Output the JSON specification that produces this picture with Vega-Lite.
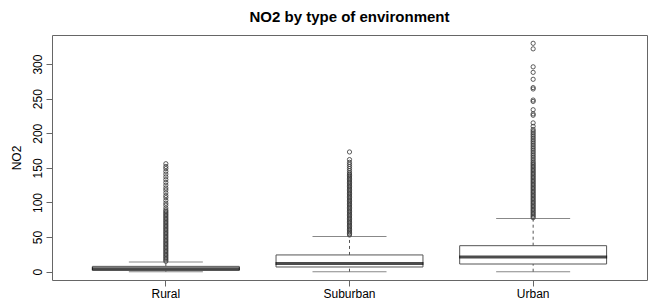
{
  "$schema": "https://vega.github.io/schema/vega-lite/v6.json",
  "width": 595,
  "height": 245,
  "autosize": {"type": "none"},
  "padding": {"left": 52, "top": 35, "right": 2, "bottom": 23},
  "background": "white",
  "title": {"text": "NO2 by type of environment", "font": "Liberation Sans", "fontSize": 15, "fontWeight": "bold", "color": "black", "anchor": "middle", "offset": 10},
  "config": {
    "view": {"stroke": "#666", "strokeWidth": 1},
    "axis": {"labelFont": "Liberation Sans", "titleFont": "Liberation Sans", "labelFontSize": 12, "titleFontSize": 12, "titleFontWeight": "normal", "labelColor": "black", "titleColor": "black", "tickColor": "#666", "tickSize": 6, "grid": false, "domain": false}
  },
  "datasets": {
    "boxes": [
      {"env": "Rural", "lo": 0, "q1": 1.9, "med": 4.3, "q3": 7.7, "hi": 14},
      {"env": "Suburban", "lo": 0, "q1": 6.8, "med": 12, "q3": 24.2, "hi": 51},
      {"env": "Urban", "lo": 0, "q1": 11.1, "med": 21.3, "q3": 37.6, "hi": 77}
    ],
    "outliers": [
      {"env":"Rural","NO2":15},{"env":"Rural","NO2":17},{"env":"Rural","NO2":19},{"env":"Rural","NO2":21},{"env":"Rural","NO2":23},{"env":"Rural","NO2":25},{"env":"Rural","NO2":27},{"env":"Rural","NO2":29},{"env":"Rural","NO2":31},{"env":"Rural","NO2":33},{"env":"Rural","NO2":35},{"env":"Rural","NO2":37},{"env":"Rural","NO2":39},{"env":"Rural","NO2":41},{"env":"Rural","NO2":43},{"env":"Rural","NO2":45},{"env":"Rural","NO2":47},{"env":"Rural","NO2":49},{"env":"Rural","NO2":51},{"env":"Rural","NO2":53},{"env":"Rural","NO2":55},{"env":"Rural","NO2":57},{"env":"Rural","NO2":59},{"env":"Rural","NO2":61},{"env":"Rural","NO2":63},{"env":"Rural","NO2":65},{"env":"Rural","NO2":67},{"env":"Rural","NO2":69},{"env":"Rural","NO2":71},{"env":"Rural","NO2":73},{"env":"Rural","NO2":75},{"env":"Rural","NO2":77},{"env":"Rural","NO2":79},{"env":"Rural","NO2":81},{"env":"Rural","NO2":83},{"env":"Rural","NO2":85},{"env":"Rural","NO2":87},{"env":"Rural","NO2":89},
      {"env":"Rural","NO2":92},{"env":"Rural","NO2":96},{"env":"Rural","NO2":99},{"env":"Rural","NO2":103},{"env":"Rural","NO2":107},{"env":"Rural","NO2":110},{"env":"Rural","NO2":114},{"env":"Rural","NO2":118},{"env":"Rural","NO2":121},{"env":"Rural","NO2":125},{"env":"Rural","NO2":129},{"env":"Rural","NO2":133},{"env":"Rural","NO2":137},{"env":"Rural","NO2":141},{"env":"Rural","NO2":145},{"env":"Rural","NO2":149},{"env":"Rural","NO2":152},{"env":"Rural","NO2":156},
      {"env":"Suburban","NO2":53},{"env":"Suburban","NO2":55},{"env":"Suburban","NO2":57},{"env":"Suburban","NO2":59},{"env":"Suburban","NO2":61},{"env":"Suburban","NO2":63},{"env":"Suburban","NO2":65},{"env":"Suburban","NO2":67},{"env":"Suburban","NO2":69},{"env":"Suburban","NO2":71},{"env":"Suburban","NO2":73},{"env":"Suburban","NO2":75},{"env":"Suburban","NO2":77},{"env":"Suburban","NO2":79},{"env":"Suburban","NO2":81},{"env":"Suburban","NO2":83},{"env":"Suburban","NO2":85},{"env":"Suburban","NO2":87},{"env":"Suburban","NO2":89},{"env":"Suburban","NO2":91},{"env":"Suburban","NO2":93},{"env":"Suburban","NO2":95},{"env":"Suburban","NO2":97},{"env":"Suburban","NO2":99},{"env":"Suburban","NO2":101},{"env":"Suburban","NO2":103},{"env":"Suburban","NO2":105},{"env":"Suburban","NO2":107},{"env":"Suburban","NO2":109},{"env":"Suburban","NO2":111},{"env":"Suburban","NO2":113},{"env":"Suburban","NO2":115},{"env":"Suburban","NO2":117},{"env":"Suburban","NO2":119},{"env":"Suburban","NO2":121},{"env":"Suburban","NO2":123},{"env":"Suburban","NO2":125},{"env":"Suburban","NO2":127},{"env":"Suburban","NO2":129},{"env":"Suburban","NO2":131},{"env":"Suburban","NO2":133},{"env":"Suburban","NO2":135},{"env":"Suburban","NO2":137},{"env":"Suburban","NO2":139},{"env":"Suburban","NO2":141},{"env":"Suburban","NO2":143},
      {"env":"Suburban","NO2":146},{"env":"Suburban","NO2":149},{"env":"Suburban","NO2":152},{"env":"Suburban","NO2":155},{"env":"Suburban","NO2":158},{"env":"Suburban","NO2":162},{"env":"Suburban","NO2":173},
      {"env":"Urban","NO2":78},{"env":"Urban","NO2":80},{"env":"Urban","NO2":82},{"env":"Urban","NO2":84},{"env":"Urban","NO2":86},{"env":"Urban","NO2":88},{"env":"Urban","NO2":90},{"env":"Urban","NO2":92},{"env":"Urban","NO2":94},{"env":"Urban","NO2":96},{"env":"Urban","NO2":98},{"env":"Urban","NO2":100},{"env":"Urban","NO2":102},{"env":"Urban","NO2":104},{"env":"Urban","NO2":106},{"env":"Urban","NO2":108},{"env":"Urban","NO2":110},{"env":"Urban","NO2":112},{"env":"Urban","NO2":114},{"env":"Urban","NO2":116},{"env":"Urban","NO2":118},{"env":"Urban","NO2":120},{"env":"Urban","NO2":122},{"env":"Urban","NO2":124},{"env":"Urban","NO2":126},{"env":"Urban","NO2":128},{"env":"Urban","NO2":130},{"env":"Urban","NO2":132},{"env":"Urban","NO2":134},{"env":"Urban","NO2":136},{"env":"Urban","NO2":138},{"env":"Urban","NO2":140},{"env":"Urban","NO2":142},{"env":"Urban","NO2":144},{"env":"Urban","NO2":146},{"env":"Urban","NO2":148},{"env":"Urban","NO2":150},{"env":"Urban","NO2":152},{"env":"Urban","NO2":154},{"env":"Urban","NO2":156},{"env":"Urban","NO2":158},
      {"env":"Urban","NO2":160.5},{"env":"Urban","NO2":163},{"env":"Urban","NO2":165.5},{"env":"Urban","NO2":168},{"env":"Urban","NO2":170.5},{"env":"Urban","NO2":173},{"env":"Urban","NO2":175.5},{"env":"Urban","NO2":178},{"env":"Urban","NO2":180.5},{"env":"Urban","NO2":183},{"env":"Urban","NO2":185.5},{"env":"Urban","NO2":188},{"env":"Urban","NO2":190.5},{"env":"Urban","NO2":193},{"env":"Urban","NO2":195.5},{"env":"Urban","NO2":198},{"env":"Urban","NO2":200.5},{"env":"Urban","NO2":203},{"env":"Urban","NO2":205.5},
      {"env":"Urban","NO2":210},{"env":"Urban","NO2":215},{"env":"Urban","NO2":226},{"env":"Urban","NO2":228},{"env":"Urban","NO2":234},{"env":"Urban","NO2":246},{"env":"Urban","NO2":248},{"env":"Urban","NO2":264},{"env":"Urban","NO2":266},{"env":"Urban","NO2":278},{"env":"Urban","NO2":288},{"env":"Urban","NO2":296},{"env":"Urban","NO2":322},{"env":"Urban","NO2":330}
    ]
  },
  "encoding": {
    "x": {"field": "env", "type": "nominal", "sort": ["Rural", "Suburban", "Urban"],
      "scale": {"paddingInner": 0.2, "paddingOuter": 0.22},
      "axis": {"title": null, "labelAngle": 0, "labelPadding": 2}}
  },
  "layer": [
    {"data": {"name": "boxes"}, "mark": {"type": "rule", "color": "#555", "strokeWidth": 1, "strokeDash": [3, 3]},
     "encoding": {"y": {"field": "lo", "type": "quantitative", "scale": {"domain": [-12, 342], "nice": false, "zero": false},
        "axis": {"title": "NO2", "values": [0, 50, 100, 150, 200, 250, 300], "labelAngle": -90, "labelAlign": "center", "labelBaseline": "bottom", "labelPadding": 2, "titlePadding": 8}},
       "y2": {"field": "q1"}}},
    {"data": {"name": "boxes"}, "mark": {"type": "rule", "color": "#555", "strokeWidth": 1, "strokeDash": [3, 3]},
     "encoding": {"y": {"field": "q3", "type": "quantitative"}, "y2": {"field": "hi"}}},
    {"data": {"name": "boxes"}, "mark": {"type": "tick", "color": "#555", "size": 74, "thickness": 1},
     "encoding": {"y": {"field": "lo", "type": "quantitative"}}},
    {"data": {"name": "boxes"}, "mark": {"type": "tick", "color": "#555", "size": 74, "thickness": 1},
     "encoding": {"y": {"field": "hi", "type": "quantitative"}}},
    {"data": {"name": "boxes"}, "mark": {"type": "bar", "fill": "white", "stroke": "#555", "strokeWidth": 1},
     "encoding": {"y": {"field": "q1", "type": "quantitative"}, "y2": {"field": "q3"}}},
    {"data": {"name": "boxes"}, "mark": {"type": "tick", "color": "black", "size": 148, "thickness": 3},
     "encoding": {"y": {"field": "med", "type": "quantitative"}}},
    {"data": {"name": "outliers"}, "mark": {"type": "point", "shape": "circle", "filled": false, "color": "#333", "size": 18, "strokeWidth": 0.8, "opacity": 1},
     "encoding": {"y": {"field": "NO2", "type": "quantitative"}}}
  ]
}
